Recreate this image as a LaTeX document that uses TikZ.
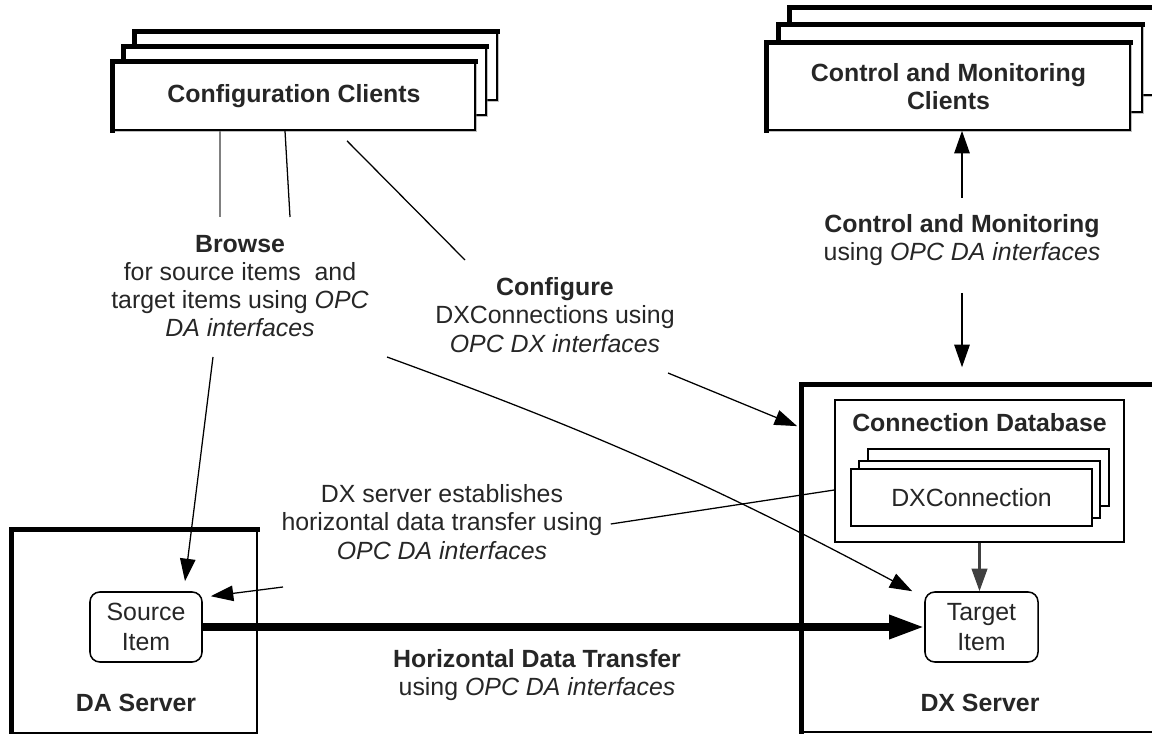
\documentclass[tikz,border=0pt]{standalone}
\usepackage{fontspec}
\setmainfont{Liberation Sans}
\usetikzlibrary{arrows.meta,calc,shadows}

\newcommand{\dfont}{\fontsize{17.7}{20}\selectfont}

\tikzset{
  heavy/.style={append after command={
      \pgfextra{\let\hvnode\tikzlastnode}
      (\hvnode.south west) edge[draw, line width=3.4pt, line cap=rect] (\hvnode.north west)
      (\hvnode.north west) edge[draw, line width=3.4pt, line cap=rect] (\hvnode.north east)}},
  clientbox/.style={draw, fill=white, line width=1.2pt, heavy,
      drop shadow={shadow xshift=1.3pt, shadow yshift=-1.3pt, opacity=0.5, fill=gray},
      align=center, font=\dfont\bfseries},
  serverbox/.style={draw, line width=1.2pt, heavy},
  conbox/.style={draw, fill=white, line width=0.9pt,
      minimum width=6.025cm, minimum height=1.425cm},
  itembox/.style={draw, fill=white, rounded corners=7pt, line width=1.1pt,
      minimum width=2.8cm, minimum height=1.75cm, align=center,
      font=\fontsize{17.7}{21}\selectfont},
  title/.style={font=\dfont\bfseries, inner sep=0pt},
  lbl/.style={align=center, inner sep=0pt},
  arr/.style={line width=0.9pt, -{Triangle[length=16pt,width=11pt]}},
  plain/.style={line width=0.9pt},
}

\begin{document}
\begin{tikzpicture}[x=0.025cm, y=-0.025cm, font=\dfont, text=black!85]
\useasboundingbox (0,0) rectangle (1152,734);
\clip (0,0) rectangle (1152,734);

% servers
\node[serverbox, minimum width=6.125cm, minimum height=5.075cm] (das) at (134.5,631.5) {};
\node[serverbox, minimum width=9.1cm, minimum height=8.675cm] (dxs) at (984,558.5) {};
\node[title] (dalbl) at (136,703) {DA Server};
\node[title] (dxlbl) at (980,703) {DX Server};

% client stacks
\foreach \dx/\dy in {22/-30, 11/-15}
  \node[clientbox, minimum width=9.05cm, minimum height=1.7cm] at (294+\dx,96+\dy) {};
\node[clientbox, minimum width=9.05cm, minimum height=1.7cm] (cfg) at (294,96) {Configuration Clients};

\foreach \dx/\dy in {23/-35, 12/-18}
  \node[clientbox, minimum width=9.075cm, minimum height=2.175cm] at (948.5+\dx,86.5+\dy) {};
\node[clientbox, minimum width=9.075cm, minimum height=2.175cm] (cmc) at (948.5,86.5) {Control and Monitoring\\Clients};

% connection database
\node[draw, line width=0.9pt, minimum width=7.225cm, minimum height=3.55cm] (cdb) at (979.5,471) {};
\node[title] (cdbt) at ($(cdb.north)+(0,23)$) {Connection Database};
\foreach \dx/\dy in {17/-20, 8/-8}
  \node[conbox] at (971.5+\dx,497.5+\dy) {};
\node[conbox] (dxc) at (971.5,497.5) {DXConnection};

% items
\node[itembox] (src) at (146,627) {Source\\Item};
\node[itembox, minimum width=2.825cm] (tgt) at (981.5,627) {Target\\Item};

% labels
\node[lbl] (browse) at (240,286) {\textbf{Browse}\\for source items\ \ and\\target items using \textit{OPC}\\\textit{DA interfaces}};
\node[lbl] (conf) at (555,315) {\textbf{Configure}\\DXConnections using\\\textit{OPC DX interfaces}};
\node[lbl] (cml) at (962,240) {\textbf{Control and Monitoring}\\using \textit{OPC DA interfaces}};
\node[lbl] (dxest) at (442,522) {DX server establishes\\horizontal data transfer using\\\textit{OPC DA interfaces}};
\node[lbl] (hdt) at (537,675) {\textbf{Horizontal Data Transfer}\\using \textit{OPC DA interfaces}};

% browse
\coordinate (b1) at (220,217);
\coordinate (b2) at (290,217);
\coordinate (b3) at (213,357);
\coordinate (b4) at (387,357);
\draw[plain, gray] (b1 |- cfg.south) -- (b1);
\draw[plain] ($(cfg.south)+(-9,0)$) -- (b2);
\draw[arr] (b3) -- ($(src.north)+(39,-10)$);
\draw[arr] (b4) to[bend left=4] ($(tgt.north west)+(-12,0)$);

% configure
\coordinate (c1) at (465,260);
\coordinate (c2) at (668,373);
\draw[plain] ($(cfg.south)+(53,10)$) -- (c1);
\draw[arr] (c2) -- ($(dxs.north west)+(-4,42)$);

% control and monitoring
\coordinate (m1) at (962,198);
\coordinate (m2) at (962,293);
\draw[arr] (m1) -- (m1 |- cmc.south);
\draw[arr, shorten >=12pt] (m2) -- (m2 |- dxs.north);

% horizontal transfer
\coordinate (e2) at (283,587);
\draw[plain] ($(dxest.east)+(8,2)$) -- ($(cdb.west)+(0,19)$);
\draw[arr] (e2) -- ($(src.north east)+(8,5)$);
\draw[line width=1.8pt, black!75, -{Triangle[length=16pt,width=11pt]}] (cdb.south) -- (cdb.south |- tgt.north);
\draw[line width=5.5pt, -{Triangle[length=25pt,width=16pt]}] (src.east) -- (src.east -| tgt.west);

\end{tikzpicture}
\end{document}
